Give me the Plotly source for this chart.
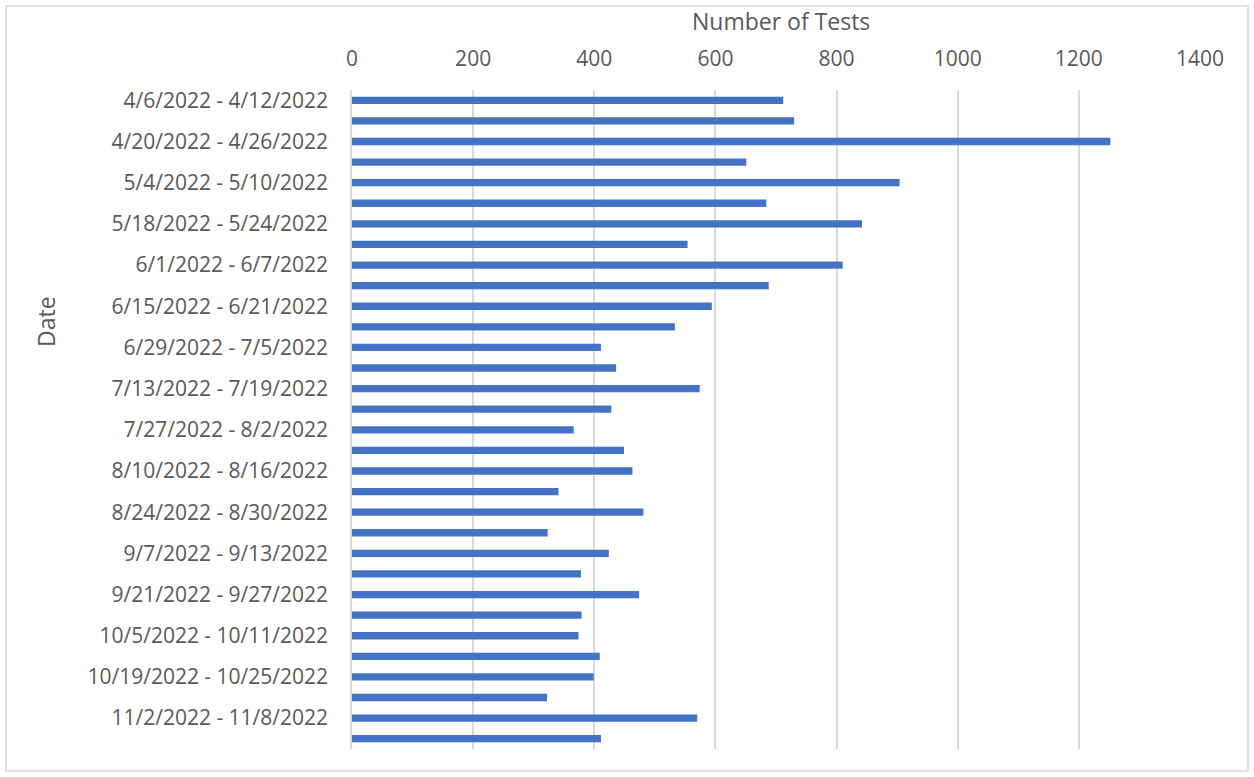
import plotly.graph_objects as go

weeks = [
    "4/6/2022 - 4/12/2022", "4/13/2022 - 4/19/2022", "4/20/2022 - 4/26/2022", "4/27/2022 - 5/3/2022",
    "5/4/2022 - 5/10/2022", "5/11/2022 - 5/17/2022", "5/18/2022 - 5/24/2022", "5/25/2022 - 5/31/2022",
    "6/1/2022 - 6/7/2022", "6/8/2022 - 6/14/2022", "6/15/2022 - 6/21/2022", "6/22/2022 - 6/28/2022",
    "6/29/2022 - 7/5/2022", "7/6/2022 - 7/12/2022", "7/13/2022 - 7/19/2022", "7/20/2022 - 7/26/2022",
    "7/27/2022 - 8/2/2022", "8/3/2022 - 8/9/2022", "8/10/2022 - 8/16/2022", "8/17/2022 - 8/23/2022",
    "8/24/2022 - 8/30/2022", "8/31/2022 - 9/6/2022", "9/7/2022 - 9/13/2022", "9/14/2022 - 9/20/2022",
    "9/21/2022 - 9/27/2022", "9/28/2022 - 10/4/2022", "10/5/2022 - 10/11/2022", "10/12/2022 - 10/18/2022",
    "10/19/2022 - 10/25/2022", "10/26/2022 - 11/1/2022", "11/2/2022 - 11/8/2022", "11/9/2022 - 11/15/2022",
]
tests = [712, 730, 1252, 651, 904, 684, 842, 554, 810, 688, 594, 533,
         411, 436, 574, 428, 366, 449, 463, 341, 481, 323, 424, 378,
         474, 379, 374, 409, 399, 322, 570, 411]
x_ticks = [0, 200, 400, 600, 800, 1000, 1200, 1400]

FONT = "Open Sans, Segoe UI, Calibri, sans-serif"
label_font = dict(family=FONT, size=21, color="#595959")
title_font = dict(family=FONT, size=23, color="#595959")

L, R, T, B = 352, 54, 90, 28
W, H = 1254, 777
PW, PH = W - L - R, H - T - B

def px(x):
    return (x - L) / PW

def py(y):
    return (H - B - y) / PH

fig = go.Figure(go.Bar(
    x=tests, y=weeks, orientation="h",
    marker=dict(color="#4472C4", line=dict(width=0)),
    width=0.355,
))

fig.update_layout(
    width=W, height=H,
    paper_bgcolor="white", plot_bgcolor="white",
    margin=dict(l=L, r=R, t=T, b=B),
    showlegend=False,
    font=label_font,
    xaxis=dict(
        side="top", range=[0, 1400], tickvals=x_ticks,
        showgrid=True, gridcolor="#d9d9d9", gridwidth=1.5,
        zeroline=False, showline=False, ticks="",
        ticklabelstandoff=19, tickfont=label_font,
    ),
    yaxis=dict(
        categoryorder="array", categoryarray=weeks, autorange="reversed",
        tickmode="array", tickvals=weeks[::2], ticktext=weeks[::2],
        showgrid=False, zeroline=False, showline=True, linecolor="#d9d9d9", linewidth=1.5,
        ticks="", ticklabelstandoff=18, tickfont=label_font,
    ),
    annotations=[
        dict(text="Number of Tests", xref="paper", yref="paper", x=px(781), y=py(21),
             showarrow=False, font=title_font, xanchor="center", yanchor="middle"),
        dict(text="Date", xref="paper", yref="paper", x=px(46), y=py(322),
             showarrow=False, textangle=-90, font=title_font, xanchor="center", yanchor="middle"),
    ],
    shapes=[dict(
        type="rect", xref="paper", yref="paper",
        x0=px(6), x1=px(1248), y0=py(771), y1=py(6),
        line=dict(color="#d9d9d9", width=1.5), fillcolor="rgba(0,0,0,0)", layer="below",
    )],
)

fig.write_html("out.html", config={"displayModeBar": False},
               post_script="document.body.style.margin='0px';")
